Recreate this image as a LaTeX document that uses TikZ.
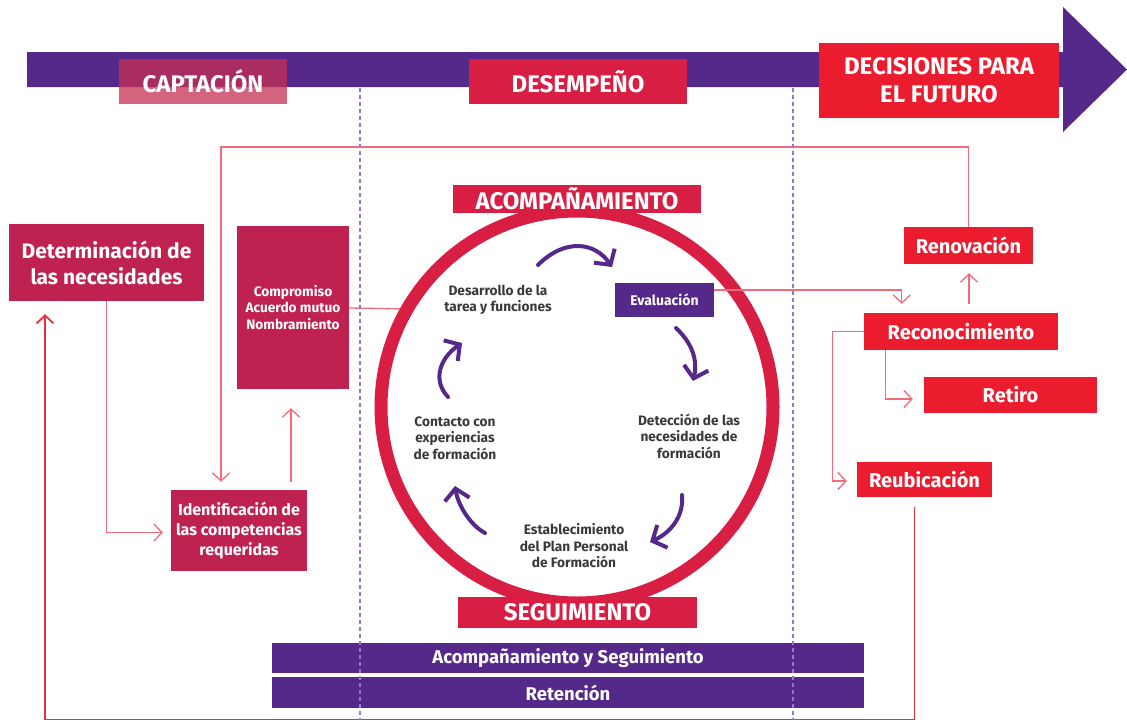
\documentclass[tikz,border=0pt]{standalone}
\usepackage{fontspec}
\setmainfont{Fira Sans}
\usetikzlibrary{arrows.meta, calc}

\definecolor{uniPurple}{HTML}{55298A}
\definecolor{crimson}{HTML}{D81E43}
\definecolor{brightRed}{HTML}{EC1C2F}
\definecolor{berry}{HTML}{BF2150}
\definecolor{captPink}{HTML}{C62F53}
\definecolor{linkPink}{HTML}{F26B78}
\definecolor{loopRed}{HTML}{E8303F}
\definecolor{dashLilac}{HTML}{9478C8}
\definecolor{inkGray}{HTML}{3A3A3A}

\begin{document}
\begin{tikzpicture}[x=1pt, y=-1pt,
  box/.style={rectangle, inner sep=0pt, text=white, align=center},
  head/.style={box, font=\bfseries\fontsize{24}{28}\selectfont},
  stage/.style={box, fill=brightRed, font=\bfseries\fontsize{20}{24}\selectfont},
  need/.style={box, fill=berry},
  cycletext/.style={text=inkGray, align=center, font=\bfseries\fontsize{13.7}{16.5}\selectfont},
  band/.style={box, fill=uniPurple, minimum width=592, font=\bfseries\fontsize{18.5}{20}\selectfont},
  link/.style={draw=linkPink, line width=1.3pt, -{Straight Barb[length=8pt,width=17pt]}},
  cyclearrow/.style={draw=uniPurple, line width=4pt, line cap=round,
    -{Straight Barb[length=11pt,width=25pt]}}]

  % Canvas
  \useasboundingbox (0,0) rectangle (1127,720);
  \fill[white] (0,0) rectangle (1127,720);

  % Timeline arrow
  \fill[uniPurple] (27,52) -- (1063,52) -- (1063,7) -- (1127,69.5)
    -- (1063,132) -- (1063,87) -- (27,87) -- cycle;

  % Phases
  \node[head, fill=captPink, fill opacity=0.75, text opacity=1,
    minimum width=168, minimum height=45] (capt) at (203,81.5) {CAPTACIÓN};
  \node[head, fill=crimson, minimum width=218, minimum height=45]
    (desemp) at (578,81.5) {DESEMPEÑO};
  \node[head, fill=brightRed, minimum width=240, minimum height=75]
    (decis) at (939,80.5) {DECISIONES PARA\\EL FUTURO};

  % Ring
  \node[circle, draw=crimson, line width=13pt, minimum size=392, inner sep=0pt]
    (ring) at (577,407) {};
  \node[head, fill=crimson, minimum width=248, minimum height=28]
    (acomp) at (577,199) {ACOMPAÑAMIENTO};
  \node[head, fill=crimson, minimum width=239, minimum height=31]
    (segui) at (577.5,612.5) {SEGUIMIENTO};

  % Cycle steps
  \node[cycletext] (desar) at (498,300) {Desarrollo de la\\tarea y funciones};
  \node[box, fill=uniPurple, minimum width=99, minimum height=34,
    font=\bfseries\fontsize{14}{16}\selectfont] (evalu) at (664.5,300) {Evaluación};
  \node[cycletext] (detec) at (689,436) {Detección de las\\necesidades de\\formación};
  \node[cycletext] (estab) at (574,546) {Establecimiento\\del Plan Personal\\de Formación};
  \node[cycletext] (contac) at (455,438) {Contacto con\\experiencias\\de formación};

  % Cycle arrows
  \draw[cyclearrow] (538,265) .. controls (565,238) and (595,242) .. (612,267);
  \draw[cyclearrow] (676,328) .. controls (692,343) and (698,360) .. (693,381);
  \draw[cyclearrow] (682,495) .. controls (684,515) and (672,532) .. (650,542);
  \draw[cyclearrow] (485,533) .. controls (470,525) and (458,505) .. (455,486);
  \draw[cyclearrow] (448,397) .. controls (432,380) and (440,358) .. (462,343);

  % Recruitment
  \node[need, minimum width=195, minimum height=77,
    font=\bfseries\fontsize{21}{26}\selectfont] (deter) at (106.5,262.5)
    {Determinación de\\las necesidades};
  \node[need, minimum width=112, minimum height=163,
    font=\bfseries\fontsize{13.7}{16.5}\selectfont] (compr) at (293,307.5)
    {Compromiso\\Acuerdo mutuo\\Nombramiento};
  \node[need, minimum width=136, minimum height=81,
    font=\bfseries\fontsize{16}{20}\selectfont] (ident) at (239,530.5)
    {Identificación de\\las competencias\\requeridas};

  % Decisions
  \node[stage, minimum width=129, minimum height=37] (renov) at (968.5,245.5) {Renovación};
  \node[stage, minimum width=194, minimum height=37] (recon) at (961,331.5) {Reconocimiento};
  \node[stage, minimum width=173, minimum height=36] (retiro) at (1010.5,395) {Retiro};
  \node[stage, minimum width=135, minimum height=35] (reubi) at (924.5,479.5) {Reubicación};

  % Bands
  \node[band, minimum height=30] (bandAS) at (568,658) {Acompañamiento y Seguimiento};
  \node[band, minimum height=31] (bandRet) at (568,692.5) {Retención};

  % Connectors
  \coordinate (topL) at (221,147);
  \coordinate (botL) at (45,719.5);
  \coordinate (detTip) at ($(deter.south)+(0,13)$);
  \draw[link] (renov.north) |- (topL) -- ($(topL|-ident.north)+(0,-8)$);
  \draw[link, -] (compr.east |- 0,308) -- (ring.151);
  \draw[link] (deter.south) |- ($(ident.west)+(-8,2)$);
  \draw[link] ($(ident.north -| 291,0)+(0,-8)$) -- ($(compr.south -| 291,0)+(0,19)$);
  \draw[link] ($(evalu.east)+(0,-10)$) -| ($(recon.north west)+(38,-9)$);
  \draw[link] ($(recon.north)+(8,-9)$) -- ($(renov.south)+(0.5,9)$);
  \draw[link] ($(recon.south west)+(22,0)$) |- ($(retiro.west)+(-11,4)$);
  \draw[link] (recon.west) -- ++(-31,0) |- ($(reubi.west)+(-10,1.5)$);
  \draw[link, draw=loopRed, line width=1.8pt]
    ($(reubi.south)+(-10,10)$) |- (botL) -- (botL |- detTip);

  % Phase borders
  \foreach \xb in {360,793}
    \draw[dashLilac, line width=1.3pt, dash pattern=on 4pt off 3pt] (\xb,88) -- (\xb,720);

\end{tikzpicture}
\end{document}
